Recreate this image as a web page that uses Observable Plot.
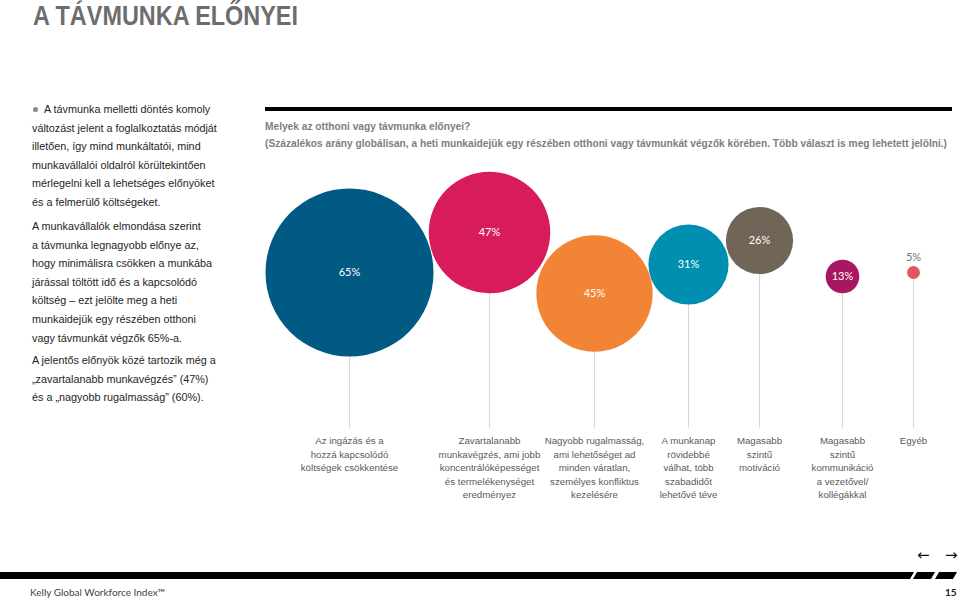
<!DOCTYPE html>
<html>
<head>
<meta charset="utf-8">
<script src="https://cdn.jsdelivr.net/npm/d3@7"></script>
<script src="https://cdn.jsdelivr.net/npm/@observablehq/plot@0.6"></script>
<style>
  html, body { margin: 0; padding: 0; background: #fff; }
  #page { position: relative; width: 960px; height: 599px; overflow: hidden; font-family: "Liberation Sans", Arial, sans-serif; }
  .abs { position: absolute; white-space: nowrap; }
  #title { left: 33px; top: 3px; font-size: 27px; line-height: 27px; font-weight: bold; color: #6d6d6d; transform-origin: 0 0; }
  .para { left: 32px; font-size: 10.8px; line-height: 18.6px; color: #1e1e1e; }
  .bullet { display: inline-block; width: 5px; height: 5px; border-radius: 50%; background: #8a8a8a; margin: 0 6px 1px 1px; vertical-align: middle; }
  .sub { left: 265px; font-size: 10.5px; line-height: 17px; font-weight: bold; color: #7e7e7e; transform-origin: 0 0; }
  #topbar { left: 265px; top: 107px; width: 687px; height: 4px; background: #000; }
  .seg { position: absolute; top: 572px; height: 7px; background: #000; transform: skewX(-30deg); }
  .arrow { font-family: "DejaVu Sans", sans-serif; font-size: 15px; color: #111; line-height: 15px; }
  .foot { font-family: Lato, "Liberation Sans", sans-serif; font-size: 10px; color: #444; line-height: 12px; }
  #chart { position: absolute; left: 0; top: 0; }
</style>
</head>
<body>
<div id="page">
  <div id="chart"></div>
  <div id="title" class="abs">A TÁVMUNKA ELŐNYEI</div>

  <div class="abs para" style="top:100px"><span class="bullet"></span>A távmunka melletti döntés komoly<br>változást jelent a foglalkoztatás módját<br>illetően, így mind munkáltatói, mind<br>munkavállalói oldalról körültekintően<br>mérlegelni kell a lehetséges előnyöket<br>és a felmerülő költségeket.</div>
  <div class="abs para" style="top:217px">A munkavállalók elmondása szerint<br>a távmunka legnagyobb előnye az,<br>hogy minimálisra csökken a munkába<br>járással töltött idő és a kapcsolódó<br>költség – ezt jelölte meg a heti<br>munkaidejük egy részében otthoni<br>vagy távmunkát végzők 65%-a.</div>
  <div class="abs para" style="top:351px">A jelentős előnyök közé tartozik még a<br>„zavartalanabb munkavégzés” (47%)<br>és a „nagyobb rugalmasság” (60%).</div>

  <div id="topbar" class="abs"></div>
  <div id="sub1" class="abs sub" style="top:118px">Melyek az otthoni vagy távmunka előnyei?</div>
  <div id="sub2" class="abs sub" style="top:135px">(Százalékos arány globálisan, a heti munkaidejük egy részében otthoni vagy távmunkát végzők körében. Több választ is meg lehetett jelölni.)</div>

  <div class="abs arrow" style="left:917px; top:548px">←</div>
  <div class="abs arrow" style="left:945px; top:548px">→</div>
  <div class="seg" style="left:-10px; width:922px"></div>
  <div class="seg" style="left:915px; width:18px"></div>
  <div class="seg" style="left:937px; width:18px"></div>
  <div class="abs foot" style="left:30px; top:586px">Kelly Global Workforce Index™</div>
  <div class="abs foot" style="left:945px; top:586px; font-weight:bold; color:#222">15</div>
</div>
<script>
// ---- data ----
const categories = [
  "Az ingázás és a\nhozzá kapcsolódó\nköltségek csökkentése",
  "Zavartalanabb\nmunkavégzés, ami jobb\nkoncentrálóképességet\nés termelékenységet\neredményez",
  "Nagyobb rugalmasság,\nami lehetőséget ad\nminden váratlan,\nszemélyes konfliktus\nkezelésére",
  "A munkanap\nrövidebbé\nválhat, több\nszabadidőt\nlehetővé téve",
  "Magasabb\nszintű\nmotiváció",
  "Magasabb\nszintű\nkommunikáció\na vezetővel/\nkollégákkal",
  "Egyéb"
];
const values = [65, 47, 45, 31, 26, 13, 5];

// ---- layout & style (kept separate from the data) ----
const palette = ["#005a84", "#d81b5a", "#f28535", "#008fb0", "#706556", "#a8175f", "#e4565e"];
const slotX = [349, 489, 594, 688, 759, 842, 913];
const slotY = [272, 232, 293, 264, 240, 276, 272];
const ruleBottom = 428;
const labelTop = 434;

const rows = categories.map((label, i) => ({
  key: "c" + i, label, value: values[i], x: slotX[i], y: slotY[i]
}));

const chart = Plot.plot({
  width: 960, height: 599, margin: 0,
  x: { type: "linear", domain: [0, 960], range: [0, 960], axis: null },
  y: { type: "linear", domain: [0, 599], range: [0, 599], axis: null },
  r: { type: "linear", domain: [0, 65], range: [0, 84] },
  color: { domain: rows.map(d => d.key), range: palette },
  style: { background: "transparent", overflow: "visible" },
  marks: [
    Plot.ruleX(rows, { x: "x", y1: "y", y2: ruleBottom, stroke: "#d8d8d8", strokeWidth: 1 }),
    Plot.dot(rows, { x: "x", y: "y", r: "value", fill: "key" }),
    Plot.text(rows.filter(d => d.value >= 10), {
      x: "x", y: "y", text: d => d.value + "%", fill: "white",
      fontFamily: "Lato", fontSize: 11
    }),
    Plot.text(rows.filter(d => d.value < 10), {
      x: "x", y: "y", text: d => d.value + "%", fill: "#777", dy: -15,
      fontFamily: "Lato", fontSize: 11
    }),
    Plot.text(rows, {
      x: "x", y: labelTop, text: "label", lineAnchor: "top", lineHeight: 1.4,
      fontSize: 9.7, fill: "#5a5a5a", fontFamily: "Liberation Sans"
    })
  ]
});
document.getElementById("chart").appendChild(chart);

// fit headline widths to the reference
function fit(id, target) {
  const el = document.getElementById(id);
  const w = el.getBoundingClientRect().width;
  const s = target / w;
  el.style.transform = `scaleX(${s})`;
  return s;
}
fit("title", 265);
const s = fit("sub2", 682);
document.getElementById("sub1").style.transform = `scaleX(${s})`;
</script>
</body>
</html>
